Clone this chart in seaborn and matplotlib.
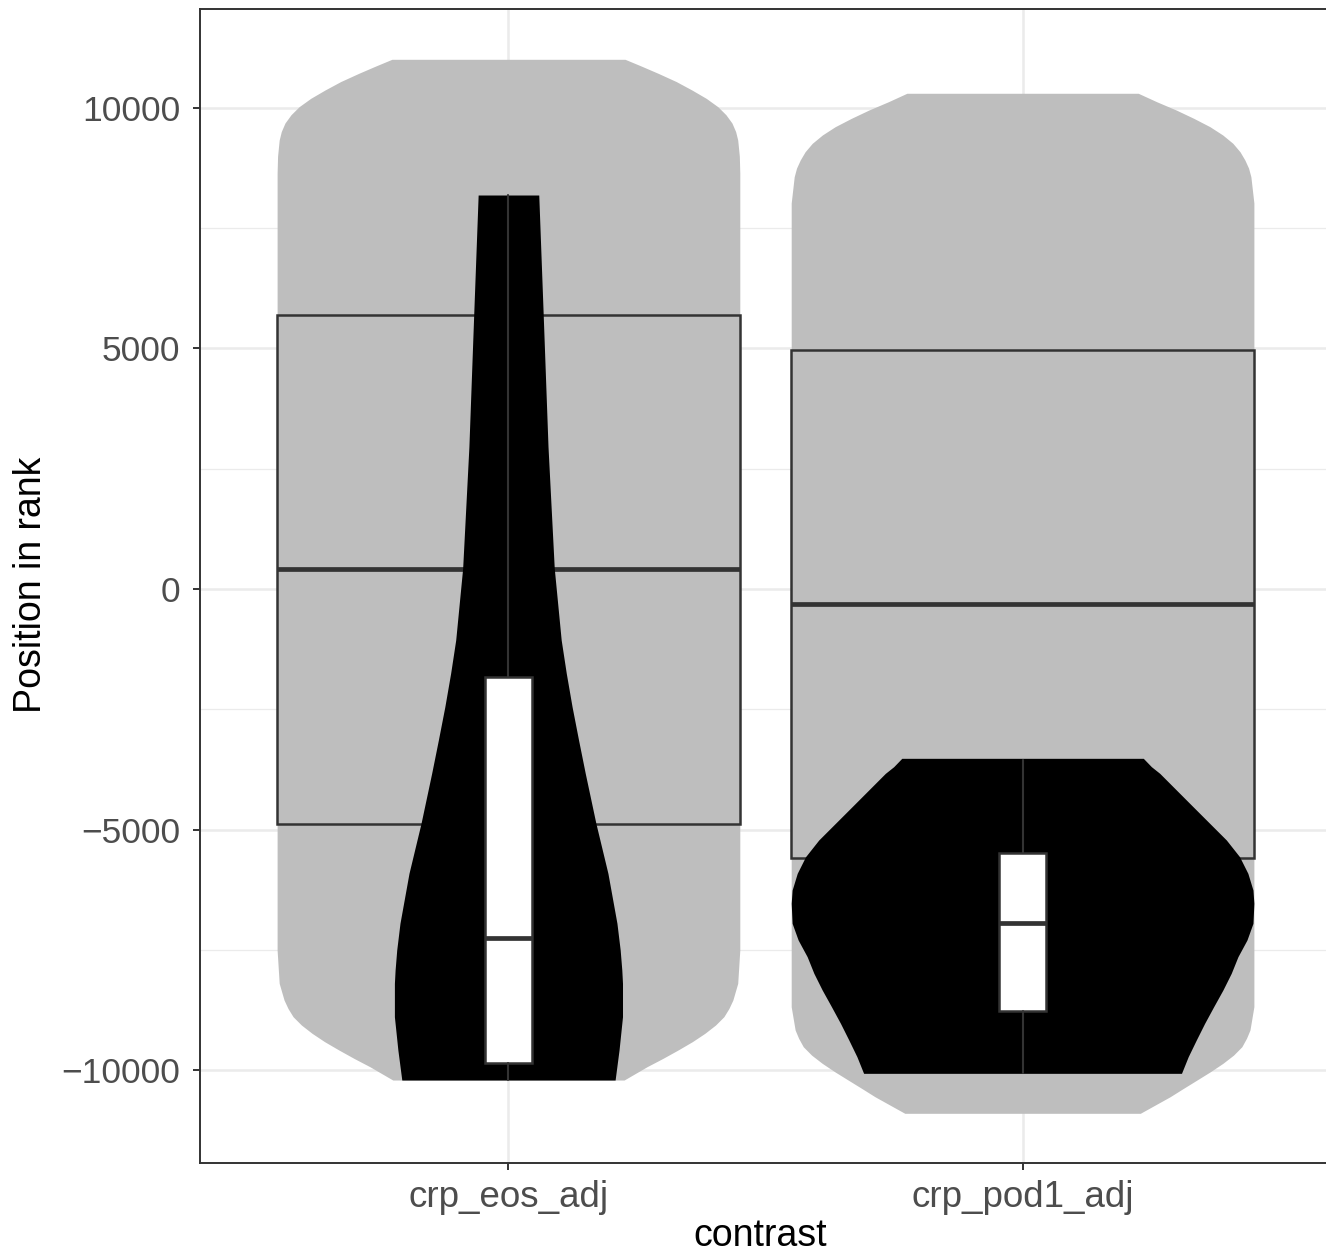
import numpy as np
import matplotlib
matplotlib.use("Agg")
import matplotlib.pyplot as plt
import seaborn as sns

# ---------------- data ----------------
categories = ["crp_eos_adj", "crp_pod1_adj"]

# background (all genes) violin outlines: value and relative half-width (1 = full 0.9 width)
bg_eos_vals = [11012, 10870, 10721, 10550, 10374, 10200, 10027, 9860, 9688, 9510,
               9335, 9000, 8649, -7505, -8198, -8545, -8720, -8892, -9065, -9237,
               -9410, -9584, -9760, -9931, -10208]
bg_eos_wid = [0.504, 0.575, 0.647, 0.725, 0.793, 0.855, 0.905, 0.940, 0.966, 0.982,
              0.991, 0.998, 1.0, 1.0, 0.991, 0.970, 0.953, 0.931, 0.895, 0.849,
              0.795, 0.733, 0.667, 0.599, 0.50]
bg_pod_vals = [10306, 10130, 9958, 9785, 9611, 9440, 9266, 9090, 8919, 8750,
               8572, 8025, -8684, -9168, -9340, -9515, -9690, -9861, -10035,
               -10208, -10380, -10555, -10900]
bg_pod_wid = [0.50, 0.58, 0.664, 0.74, 0.81, 0.865, 0.909, 0.94, 0.961, 0.977,
              0.987, 1.0, 1.0, 0.983, 0.968, 0.948, 0.912, 0.866, 0.812,
              0.754, 0.696, 0.638, 0.509]

# foreground (selected genes) violin outlines
fg_eos_vals = [8191, 5732, 2958, 430, -1060, -1753, -2447, -3139, -3832, -4872,
               -5911, -6950, -7505, -7921, -8198, -8892, -9584, -10208]
fg_eos_wid = [0.131, 0.150, 0.171, 0.198, 0.228, 0.250, 0.275, 0.303, 0.332, 0.378,
              0.430, 0.469, 0.483, 0.490, 0.493, 0.493, 0.478, 0.461]
fg_pod_vals = [-3520, -3694, -3832, -4179, -4526, -4872, -5218, -5565, -5911,
               -6258, -6534, -6950, -7297, -7644, -7990, -8337, -8684, -9030,
               -9376, -9723, -10069]
fg_pod_wid = [0.522, 0.557, 0.593, 0.665, 0.737, 0.809, 0.881, 0.938, 0.974,
              0.996, 1.0, 0.996, 0.970, 0.931, 0.902, 0.866, 0.826, 0.787,
              0.751, 0.716, 0.687]

# boxplot summaries
bg_q1 = [-4886, -5585]
bg_med = [410, -312]
bg_q3 = [5696, 4969]

fg_lo = [-10208, -10062]
fg_q1 = [-9861, -8767]
fg_med = [-7250, -6938]
fg_q3 = [-1823, -5495]
fg_hi = [8191, -3555]

# ---------------- style ----------------
sns.set_theme(style="whitegrid")
plt.rcParams['font.family'] = ['Liberation Sans', 'DejaVu Sans']

fig = plt.figure(figsize=(13.26, 12.56), dpi=100)
W, H = 1326, 1256
left, right, top, bottom = 200, 1331, 9, 1163
ax = fig.add_axes([left / W, (H - bottom) / H, (right - left) / W, (bottom - top) / H])
ax.set_facecolor("white")

HALF = 0.45
GREY = "#BEBEBE"
DARK = "#333333"

def draw_violin(pos, vals, wid, color, z):
    v = np.asarray(vals, dtype=float)
    w = np.asarray(wid, dtype=float) * HALF
    ax.fill_betweenx(v, pos - w, pos + w, color=color, linewidth=0,
                     antialiased=True, zorder=z)

draw_violin(0, bg_eos_vals, bg_eos_wid, GREY, 1)
draw_violin(1, bg_pod_vals, bg_pod_wid, GREY, 1)

bg_stats = [dict(q1=bg_q1[i], med=bg_med[i], q3=bg_q3[i], whislo=bg_q1[i],
                 whishi=bg_q3[i], fliers=[]) for i in range(2)]
ax.bxp(bg_stats, positions=[0, 1], widths=0.9, patch_artist=True, showcaps=False,
       boxprops=dict(facecolor=GREY, edgecolor=DARK, linewidth=1.8),
       medianprops=dict(color=DARK, linewidth=3.4, solid_capstyle="butt"),
       whiskerprops=dict(linewidth=0), showfliers=False, zorder=2,
       manage_ticks=False)

draw_violin(0, fg_eos_vals, fg_eos_wid, "black", 3)
draw_violin(1, fg_pod_vals, fg_pod_wid, "black", 3)

fg_stats = [dict(q1=fg_q1[i], med=fg_med[i], q3=fg_q3[i], whislo=fg_lo[i],
                 whishi=fg_hi[i], fliers=[]) for i in range(2)]
ax.bxp(fg_stats, positions=[0, 1], widths=0.09, patch_artist=True, showcaps=False,
       boxprops=dict(facecolor="white", edgecolor=DARK, linewidth=1.8),
       medianprops=dict(color=DARK, linewidth=3.4, solid_capstyle="butt"),
       whiskerprops=dict(color=DARK, linewidth=1.5),
       showfliers=False, zorder=4, manage_ticks=False)

# ---------------- axes ----------------
ax.set_xlim(-0.6, 1.6)
ax.set_ylim(-11933, 12058)
ax.set_xticks([0, 1])
ax.set_xticklabels(categories)
ax.set_yticks([-10000, -5000, 0, 5000, 10000])
ax.set_yticks([-7500, -2500, 2500, 7500], minor=True)
ax.yaxis.set_major_formatter(matplotlib.ticker.FuncFormatter(
    lambda v, p: f"{int(v)}".replace("-", "\u2212")))

ax.grid(True, which="major", color="#EBEBEB", linewidth=1.8, zorder=0)
ax.grid(True, which="minor", axis="y", color="#EBEBEB", linewidth=0.9, zorder=0)
ax.set_axisbelow(True)

for s in ax.spines.values():
    s.set_visible(True)
    s.set_color(DARK)
    s.set_linewidth(1.4)

ax.tick_params(axis="both", which="major", length=5, width=1.4, color=DARK,
               labelsize=25.5, labelcolor="#4D4D4D", direction="out",
               left=True, bottom=True)
ax.tick_params(axis="x", which="major", labelsize=26.5)
ax.tick_params(axis="y", which="major", pad=9)
ax.tick_params(axis="x", which="major", pad=7)
ax.tick_params(which="minor", length=0)

ax.set_xlabel("contrast", fontsize=27, color="black")
ax.set_ylabel("Position in rank", fontsize=27, color="black")
ax.xaxis.set_label_coords((760 - left) / (right - left), (bottom - 1246) / (bottom - top))
ax.xaxis.label.set_va("baseline")
ax.yaxis.set_label_coords((31 - left) / (right - left), (bottom - 585) / (bottom - top))
ax.yaxis.label.set_va("center")

fig.savefig("out.png", dpi=100, facecolor="white")
